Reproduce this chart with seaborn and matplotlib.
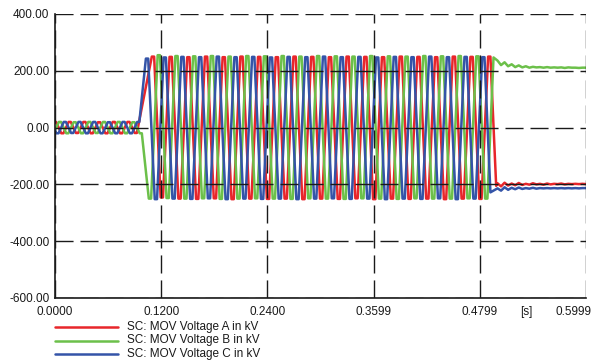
import matplotlib
matplotlib.use("Agg")
import numpy as np
import pandas as pd
import seaborn as sns
import matplotlib.pyplot as plt
from matplotlib.lines import Line2D
from matplotlib.ticker import MultipleLocator
from matplotlib.transforms import ScaledTranslation

# ---------------- data ----------------
phases = ["SC: MOV Voltage A in kV", "SC: MOV Voltage B in kV", "SC: MOV Voltage C in kV"]
colors = ["#E8262B", "#6CC04A", "#3454A8"]

x_ticks = [0.0, 0.12, 0.24, 0.36, 0.48, 0.60]
x_tick_labels = ["0.0000", "0.1200", "0.2400", "0.3599", "0.4799", "0.5999"]
y_ticks = [400, 200, 0, -200, -400, -600]
y_tick_labels = ["400.00", "200.00", "0.00", "-200.00", "-400.00", "-600.00"]

# pre-fault period (0 - 0.1 s): value at t=0, then alternating half-cycle peaks (kV)
pre_start_values = [20, -10, -10]
pre_first_peak_t = [0.0, 0.0056, 0.0028]
pre_half_period = 0.0083
pre_A = [20, -20, 20, -19, 20, -20, 19, -20, 20, -20, 20, -19]
pre_B = [20, -20, 19, -20, 20, -19, 20, -20, 20, -20, 19, -20]
pre_C = [-20, 20, -19, 20, -20, 20, -20, 19, -20, 20, -20, 20]

# over-voltage period (0.10 - 0.49 s): half-cycle peaks clipped by the MOV (kV)
high_first_peak_t = [0.1107, 0.1073, 0.1040]
high_half_period = 0.0100
high_A = [250, -246, 249, -250, 248, -251, 250, -249, 248, -252, 250, -250, 249, -251,
          248, -250, 250, -252, 249, -250, 248, -251, 250, -249, 249, -252, 248, -250,
          250, -251, 249, -250, 248, -252, 250, -250, 249, -251, 250]
high_B = [-250, 255, -248, 252, -250, 251, -249, 252, -251, 250, -250, 252, -249, 251,
          -250, 252, -251, 250, -249, 252, -250, 251, -251, 250, -249, 252, -250, 251,
          -251, 250, -249, 252, -250, 251, -250, 252, -249, 251, -250]
high_C = [243, -252, 247, -250, 249, -251, 248, -249, 250, -252, 248, -250, 249, -251,
          247, -250, 249, -252, 248, -250, 250, -249, 248, -251, 249, -250, 247, -252,
          249, -250, 248, -251, 250, -249, 248, -252, 249, -250, 248]

# end of the over-voltage: landing point of the last swing (s, kV)
land_t = [0.4985, 0.4955, 0.4920]
land_v = [-205, 247, -228]

# after ~0.49 s: trapped charge with decaying ripple
post_t = [0.500, 0.504, 0.508, 0.512, 0.516, 0.520, 0.524, 0.528, 0.532, 0.536, 0.540,
          0.544, 0.548, 0.552, 0.556, 0.560, 0.564, 0.568, 0.572, 0.576, 0.580, 0.584,
          0.588, 0.592, 0.596, 0.600]
post_A = [-196, -207, -194, -204, -197, -203, -195, -202, -198, -201, -196, -200, -198,
          -201, -197, -200, -198, -199, -197, -200, -198, -199, -198, -199, -198, -199]
post_B = [236, 220, 230, 216, 223, 213, 219, 212, 216, 211, 214, 212, 213, 211, 213, 211,
          212, 211, 212, 210, 212, 211, 211, 210, 211, 211]
post_C = [-214, -222, -210, -219, -212, -217, -211, -216, -213, -215, -212, -215, -213,
          -214, -213, -214, -213, -214, -213, -214, -213, -214, -213, -214, -213, -213]

# ---------------- build long-form table ----------------
pre_hold = 0.0012    # half width of the rounded peak (s)
high_hold = 0.0013   # half width of the clipped plateau (s)

frames = []
for i, name in enumerate(phases):
    pre = [pre_A, pre_B, pre_C][i]
    high = [high_A, high_B, high_C][i]
    post = [post_A, post_B, post_C][i]
    ts, vs = [0.0], [pre_start_values[i]]
    for k, p in enumerate(pre):
        tc = pre_first_peak_t[i] + k * pre_half_period
        for d in (-pre_hold, pre_hold):
            if tc + d > 0:
                ts.append(tc + d); vs.append(p)
    for k, p in enumerate(high):
        tc = high_first_peak_t[i] + k * high_half_period
        for d in (-high_hold, high_hold):
            ts.append(tc + d); vs.append(p)
    ts.append(land_t[i]); vs.append(land_v[i])
    ts.extend(post_t); vs.extend(post)
    frames.append(pd.DataFrame({"t": ts, "v": vs, "phase": name}))
df = pd.concat(frames, ignore_index=True)

# ---------------- plot ----------------
sns.set_style("white")
plt.rcParams["font.family"] = ["Liberation Sans", "DejaVu Sans"]

W, H = 592, 360
fig = plt.figure(figsize=(W / 100, H / 100), dpi=100)
ax = fig.add_axes([55 / W, 1 - 298 / H, (586 - 55) / W, (298 - 14) / H])

sns.lineplot(data=df, x="t", y="v", hue="phase", hue_order=phases,
             palette=dict(zip(phases, colors)), estimator=None, sort=False,
             linewidth=1.8, legend=False, ax=ax)

ax.set_xlim(0, 0.6)
ax.set_ylim(-600, 400)
ax.set_xticks(x_ticks)
ax.set_xticklabels(x_tick_labels)
ax.set_yticks(y_ticks)
ax.set_yticklabels(y_tick_labels)
ax.xaxis.set_minor_locator(MultipleLocator(0.06))
ax.yaxis.set_minor_locator(MultipleLocator(100))
ax.set_xlabel("")
ax.set_ylabel("")

# dashed grid drawn over the curves, as in the reference
ax.set_axisbelow(False)
ax.grid(True, which="major", color="#1a1a1a", linestyle=(0, (13, 5)), linewidth=1.0)
for s in ["top", "right"]:
    ax.spines[s].set_visible(False)
for s in ["left", "bottom"]:
    ax.spines[s].set_color("#1a1a1a")
    ax.spines[s].set_linewidth(1.2)

ax.tick_params(axis="x", which="major", direction="in", length=7, width=1.2,
               labelsize=8.5, pad=6, colors="#1a1a1a")
ax.tick_params(axis="x", which="minor", direction="in", length=3.5, width=1.0, colors="#1a1a1a")
ax.tick_params(axis="y", which="major", direction="in", length=4, width=1.0,
               labelsize=8.5, pad=4, colors="#1a1a1a")
ax.tick_params(axis="y", which="minor", direction="in", length=3.5, width=1.0, colors="#1a1a1a")

# keep the last x label inside the picture, as in the reference
last = ax.get_xticklabels()[-1]
last.set_transform(last.get_transform() + ScaledTranslation(-12 / 100, 0, fig.dpi_scale_trans))

fig.text(526 / W, 1 - 312 / H, "[s]", ha="center", va="center", fontsize=8.5, color="#1a1a1a")

# legend below the axes
for i, name in enumerate(phases):
    y = 1 - (327 + 13.5 * i) / H
    fig.add_artist(Line2D([55 / W, 118 / W], [y, y], color=colors[i], linewidth=1.8,
                          transform=fig.transFigure))
    fig.text(127 / W, y, name, ha="left", va="center", fontsize=8.5, color="#1a1a1a")

fig.savefig("out.png", dpi=100)
